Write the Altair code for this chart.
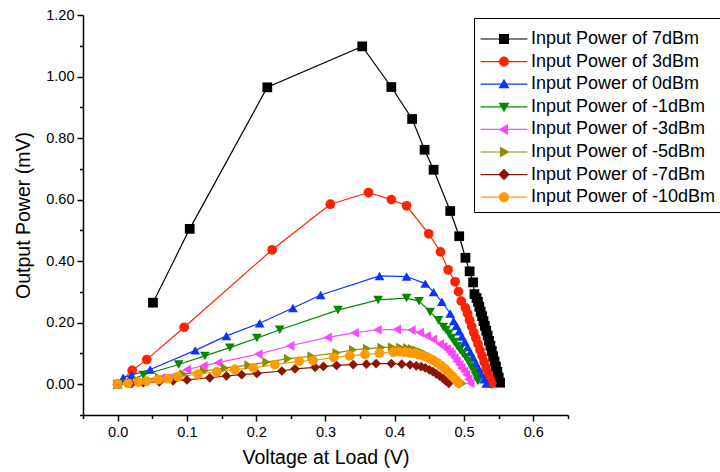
import altair as alt
import pandas as pd

FONT = "Liberation Sans"

series_names = [
    "Input Power of 7dBm", "Input Power of 3dBm", "Input Power of 0dBm",
    "Input Power of -1dBm", "Input Power of -3dBm", "Input Power of -5dBm",
    "Input Power of -7dBm", "Input Power of -10dBm",
]
colors = ["#000000", "#ff2200", "#0a35ff", "#008a00", "#ff44ff", "#8c8c00", "#8b1500", "#ff9900"]
shapes = ["square", "circle", "triangle-up", "triangle-down", "triangle-left",
          "triangle-right", "diamond", "circle"]

v_7 = [0.051, 0.104, 0.216, 0.353, 0.395, 0.425, 0.443, 0.456, 0.480, 0.493, 0.502, 0.508, 0.513,
       0.515, 0.518, 0.520, 0.522, 0.524, 0.526, 0.528, 0.530, 0.532, 0.534, 0.536, 0.538, 0.540,
       0.542, 0.544, 0.546, 0.548, 0.550, 0.552]
p_7 = [0.265, 0.505, 0.965, 1.098, 0.966, 0.862, 0.762, 0.697, 0.563, 0.481, 0.411, 0.367, 0.331,
       0.293, 0.280, 0.268, 0.252, 0.236, 0.221, 0.205, 0.190, 0.174, 0.158, 0.141, 0.125, 0.108,
       0.091, 0.074, 0.057, 0.040, 0.022, 0.005]

v_3 = [0.0, 0.021, 0.042, 0.096, 0.223, 0.307, 0.362, 0.395, 0.417, 0.449, 0.466, 0.477, 0.487,
       0.492, 0.496, 0.502, 0.505, 0.508, 0.511, 0.514, 0.517, 0.520, 0.523, 0.526, 0.529, 0.532,
       0.535, 0.538, 0.540]
p_3 = [0.0, 0.045, 0.080, 0.185, 0.437, 0.585, 0.623, 0.600, 0.580, 0.489, 0.430, 0.372, 0.333,
       0.301, 0.270, 0.248, 0.230, 0.208, 0.188, 0.168, 0.150, 0.131, 0.111, 0.092, 0.072, 0.052,
       0.032, 0.014, 0.002]

v_0 = [0.0, 0.008, 0.020, 0.047, 0.112, 0.157, 0.205, 0.253, 0.293, 0.378, 0.417, 0.444, 0.456,
       0.468, 0.480, 0.485, 0.489, 0.493, 0.497, 0.501, 0.505, 0.509, 0.513, 0.517, 0.521, 0.525,
       0.529, 0.532]
p_0 = [0.0, 0.021, 0.030, 0.048, 0.110, 0.157, 0.198, 0.248, 0.290, 0.352, 0.350, 0.327, 0.300,
       0.268, 0.230, 0.205, 0.190, 0.172, 0.155, 0.138, 0.121, 0.104, 0.087, 0.069, 0.051, 0.033,
       0.016, 0.002]

v_m1 = [0.0, 0.037, 0.088, 0.126, 0.162, 0.201, 0.234, 0.318, 0.376, 0.417, 0.435, 0.451, 0.463,
        0.470, 0.474, 0.478, 0.482, 0.486, 0.490, 0.494, 0.498, 0.502, 0.506, 0.510, 0.514, 0.517,
        0.520]
p_m1 = [0.0, 0.030, 0.064, 0.092, 0.119, 0.150, 0.177, 0.241, 0.274, 0.280, 0.270, 0.235, 0.208,
        0.186, 0.176, 0.164, 0.150, 0.137, 0.124, 0.112, 0.100, 0.088, 0.075, 0.058, 0.042, 0.026,
        0.010]

v_m3 = [0.0, 0.063, 0.100, 0.124, 0.145, 0.203, 0.249, 0.303, 0.342, 0.375, 0.403, 0.424, 0.436,
        0.446, 0.455, 0.465, 0.470, 0.475, 0.479, 0.482, 0.486, 0.489, 0.493, 0.496, 0.500, 0.503,
        0.506, 0.509]
p_m3 = [0.0, 0.021, 0.048, 0.060, 0.070, 0.098, 0.125, 0.152, 0.167, 0.177, 0.178, 0.176, 0.168,
        0.157, 0.146, 0.131, 0.122, 0.114, 0.105, 0.097, 0.086, 0.075, 0.064, 0.053, 0.042, 0.031,
        0.016, 0.003]

v_m5 = [0.0, 0.030, 0.060, 0.095, 0.125, 0.155, 0.189, 0.215, 0.246, 0.280, 0.316, 0.340, 0.360,
        0.381, 0.396, 0.408, 0.418, 0.425, 0.432, 0.439, 0.446, 0.453, 0.459, 0.465, 0.471, 0.477,
        0.483, 0.489, 0.494, 0.498]
p_m5 = [0.0, 0.012, 0.022, 0.033, 0.043, 0.053, 0.062, 0.072, 0.083, 0.091, 0.102, 0.112, 0.116,
        0.119, 0.121, 0.120, 0.118, 0.115, 0.110, 0.104, 0.097, 0.089, 0.080, 0.070, 0.059, 0.047,
        0.034, 0.021, 0.010, 0.002]

v_m7 = [0.0, 0.020, 0.037, 0.060, 0.080, 0.100, 0.133, 0.157, 0.179, 0.201, 0.237, 0.256, 0.285,
        0.297, 0.316, 0.340, 0.359, 0.373, 0.395, 0.410, 0.422, 0.431, 0.438, 0.444, 0.450, 0.455,
        0.460, 0.465, 0.470, 0.474, 0.478]
p_m7 = [0.0, 0.002, 0.005, 0.008, 0.011, 0.014, 0.021, 0.027, 0.031, 0.035, 0.043, 0.050, 0.055,
        0.058, 0.061, 0.064, 0.065, 0.067, 0.067, 0.065, 0.063, 0.060, 0.057, 0.053, 0.047, 0.041,
        0.034, 0.026, 0.018, 0.010, 0.003]

v_m10 = [0.0, 0.015, 0.030, 0.042, 0.059, 0.073, 0.087, 0.116, 0.143, 0.169, 0.196, 0.227, 0.262,
         0.282, 0.312, 0.335, 0.357, 0.378, 0.398, 0.406, 0.414, 0.421, 0.428, 0.435, 0.442, 0.449,
         0.455, 0.461, 0.467, 0.473, 0.478, 0.483, 0.488, 0.492]
p_m10 = [0.0, 0.003, 0.007, 0.010, 0.015, 0.018, 0.024, 0.033, 0.040, 0.048, 0.053, 0.064, 0.075,
         0.077, 0.087, 0.092, 0.097, 0.101, 0.104, 0.105, 0.104, 0.102, 0.100, 0.096, 0.091, 0.085,
         0.078, 0.070, 0.060, 0.049, 0.038, 0.026, 0.014, 0.004]

x_major_ticks = [0.0, 0.1, 0.2, 0.3, 0.4, 0.5, 0.6]
x_minor_ticks = [-0.05, 0.05, 0.15, 0.25, 0.35, 0.45, 0.55, 0.65]
y_major_ticks = [0.0, 0.2, 0.4, 0.6, 0.8, 1.0, 1.2]
y_minor_ticks = [-0.1, 0.1, 0.3, 0.5, 0.7, 0.9, 1.1]

all_v = [v_7, v_3, v_0, v_m1, v_m3, v_m5, v_m7, v_m10]
all_p = [p_7, p_3, p_0, p_m1, p_m3, p_m5, p_m7, p_m10]

rows = []
for name, vs, ps in zip(series_names, all_v, all_p):
    for i, (a, b) in enumerate(zip(vs, ps)):
        rows.append({"series": name, "v": a, "p": b, "i": i})
df = pd.DataFrame(rows)

# legend symbols: marker plus a short line through it (unit coords, scaled by sqrt(size)/2)
bar = "M-4.67,-0.12H4.67V0.12H-4.67Z"
marker_paths = [
    "M-1,-1H1V1H-1Z",
    "M-1,0A1,1,0,1,1,1,0A1,1,0,1,1,-1,0Z",
    "M0,-1.1L1.1,0.8L-1.1,0.8Z",
    "M0,1.1L-1.1,-0.8L1.1,-0.8Z",
    "M-1.1,0L0.8,-1.1L0.8,1.1Z",
    "M1.1,0L-0.8,1.1L-0.8,-1.1Z",
    "M0,-1.15L1.15,0L0,1.15L-1.15,0Z",
    "M-1,0A1,1,0,1,1,1,0A1,1,0,1,1,-1,0Z",
]
legend_paths = [bar + m for m in marker_paths]

x_scale = alt.Scale(domain=[-0.05, 0.65], nice=False, zero=False)
y_scale = alt.Scale(domain=[-0.1, 1.2], nice=False, zero=False)
color_scale = alt.Scale(domain=series_names, range=colors)

axis_common = dict(grid=False, domainColor="black", tickColor="black", labelColor="black",
                   titleColor="black", labelFont=FONT, titleFont=FONT, domainWidth=1.5,
                   tickWidth=1.5, titleFontWeight="normal")

x_major = alt.Axis(values=x_major_ticks, format=".1f", title="Voltage at Load (V)", orient="bottom",
                   tickSize=6, labelFontSize=14.5, titleFontSize=19.5, labelPadding=4,
                   titlePadding=10, labelFlush=False, **axis_common)
y_major = alt.Axis(values=y_major_ticks, format=".2f", title="Output Power (mV)", orient="left",
                   tickSize=6, labelFontSize=14.5, titleFontSize=19.5, labelPadding=3,
                   titlePadding=12, labelFlush=False, **axis_common)
x_minor = alt.Axis(values=x_minor_ticks, orient="bottom", tickSize=3.5, labels=False, domain=False,
                   title=None, grid=False, tickColor="black", tickWidth=1.5)
y_minor = alt.Axis(values=y_minor_ticks, orient="left", tickSize=3.5, labels=False, domain=False,
                   title=None, grid=False, tickColor="black", tickWidth=1.5)

base = alt.Chart(df)

lines = base.mark_line(strokeWidth=1.2).encode(
    x=alt.X("v:Q", scale=x_scale, axis=x_major),
    y=alt.Y("p:Q", scale=y_scale, axis=y_major),
    color=alt.Color("series:N", scale=color_scale, legend=None),
    order="i:Q",
)

points = base.mark_point(filled=True, size=95, opacity=1).encode(
    x=alt.X("v:Q", scale=x_scale, axis=None),
    y=alt.Y("p:Q", scale=y_scale, axis=None),
    color=alt.Color("series:N", scale=color_scale, legend=None),
    shape=alt.Shape("series:N", scale=alt.Scale(domain=series_names, range=shapes), legend=None),
)

leg = alt.Legend(orient="none", legendX=391, legendY=3, title=" ", titleFontSize=4, titlePadding=3,
                 padding=5, strokeColor="black", fillColor="white", labelFont=FONT,
                 labelFontSize=18, labelColor="black", symbolOffset=16, labelOffset=18,
                 rowPadding=4.6, symbolStrokeWidth=0, labelLimit=400)

legend_layer = base.transform_filter("false").mark_point(filled=True, size=81, opacity=1).encode(
    x=alt.X("v:Q", scale=x_scale, axis=x_minor),
    y=alt.Y("p:Q", scale=y_scale, axis=y_minor),
    color=alt.Color("series:N", scale=color_scale, legend=leg),
    shape=alt.Shape("series:N", scale=alt.Scale(domain=series_names, range=legend_paths), legend=leg),
)

chart = alt.layer(lines, points, legend_layer).resolve_scale(
    color="independent", shape="independent"
).resolve_axis(x="independent", y="independent").properties(
    width=485, height=400,
    padding={"left": 83, "top": 15, "right": 152, "bottom": 57},
    autosize=alt.AutoSizeParams(type="none"),
    background="white",
).configure_view(stroke=None)

chart.save("out.html", embed_options={"renderer": "svg", "actions": False})
